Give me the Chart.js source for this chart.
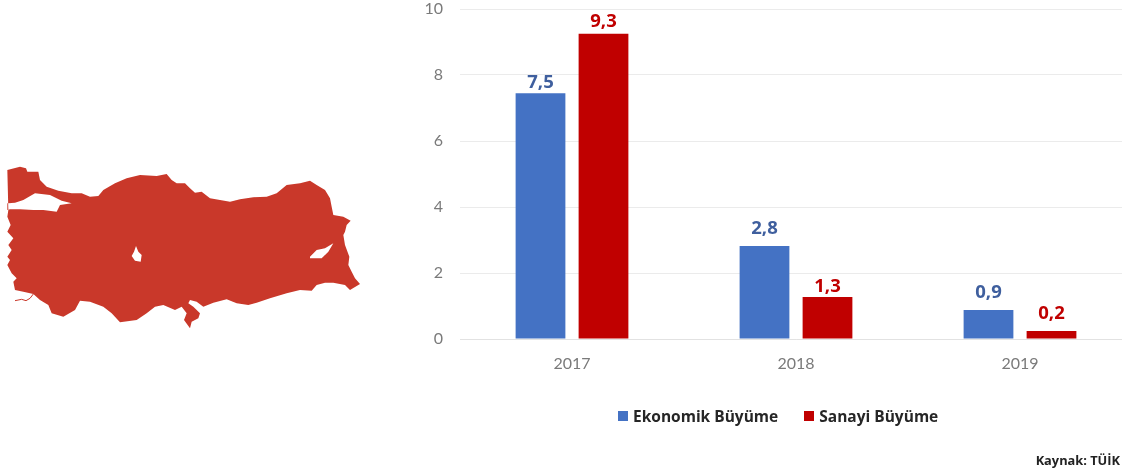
<!DOCTYPE html>
<html lang="tr">
<head>
<meta charset="utf-8">
<title>Ekonomik ve Sanayi Büyüme</title>
<script src="https://cdn.jsdelivr.net/npm/chart.js@4"></script>
<style>
  html, body { margin: 0; width: 1122px; height: 474px; overflow: hidden; background: #fff; font-family: "Open Sans", sans-serif; }
  #harita { position: absolute; left: 0; top: 150px; width: 380px; height: 190px; filter: blur(0.5px); }
  #grafik { position: absolute; left: 0; top: 0; }
  #lejant { position: absolute; left: 618px; top: 406px; display: flex; font-size: 15.5px; font-weight: 700; color: #262626; line-height: 20px; white-space: nowrap; }
  #lejant span { display: flex; align-items: center; margin-right: 26px; }
  #lejant i { width: 10px; height: 10px; margin-right: 5px; }
  #kaynak { position: absolute; right: 2px; top: 451px; font-size: 12.8px; font-weight: 700; color: #222; }
</style>
</head>
<body>
<!-- Türkiye haritası: sadece süs, veri taşımıyor -->
<svg id="harita" viewBox="0 0 1140 570">
  <path fill="#c9382a" fill-rule="evenodd" d="M22 60 60 50 78 55 82 65 115 65 120 90 140 110 175 122 215 130 245 130 270 140 295 138 310 120 345 100 380 85 420 75 470 78 500 72 515 90 530 100 555 100 570 115 585 128 605 125 630 145 660 150 690 155 720 148 760 142 800 140 830 130 860 105 900 100 930 92 950 105 975 120 990 145 995 170 1000 195 1030 200 1052 212 1040 225 1035 245 1030 255 1035 285 1048 320 1045 345 1055 365 1065 385 1080 402 1050 420 1035 405 1000 398 975 398 950 405 935 422 900 420 860 430 810 445 770 458 745 465 710 460 680 448 640 458 610 470 590 455 570 450 565 460 580 470 600 490 595 505 575 515 570 535 552 510 560 490 545 470 525 480 490 465 465 470 440 490 410 510 360 517 335 490 310 470 270 455 240 452 225 480 190 500 155 490 145 465 120 450 100 432 70 425 45 420 40 395 50 385 35 370 22 345 30 330 22 320 35 300 25 285 40 265 22 245 32 225 22 200 25 180 Z
  M22 160 45 158 70 150 105 130 150 135 185 152 215 160 180 165 170 185 130 180 100 180 60 178 30 178 22 180 Z
  M408 288 415 305 425 315 422 335 405 332 395 318 402 305 Z
  M930 320 950 300 975 295 1000 280 985 305 965 325 930 325 Z"/>
  <path fill="none" stroke="#c9382a" stroke-width="3" d="M45 452 65 448 78 452 90 445 100 432"/>
</svg>
<canvas id="grafik" width="1132" height="474"></canvas>
<div id="lejant"></div>
<div id="kaynak">Kaynak: TÜİK</div>
<script>
const years = ['2017', '2018', '2019'];
// Çubuk yükseklikleri; etiketler tek ondalığa yuvarlanıyor
const ekonomik = [7.45, 2.82, 0.88];
const sanayi = [9.25, 1.27, 0.24];
const yTicks = [0, 2, 4, 6, 8, 10];

const MAVI = '#4472c4';
const KIRMIZI = '#c00000';

// Çubukların üstündeki değer etiketleri (virgüllü)
const degerEtiketi = {
    id: 'degerEtiketi',
    afterDatasetsDraw(chart) {
        const ctx = chart.ctx;
        ctx.save();
        ctx.font = '700 18.5px "Open Sans", sans-serif';
        ctx.textAlign = 'center';
        ctx.textBaseline = 'alphabetic';
        chart.data.datasets.forEach(function (ds, i) {
            ctx.fillStyle = ds.labelColor;
            chart.getDatasetMeta(i).data.forEach(function (bar, j) {
                // orijinalde etiketler çubuğa eşit uzaklıkta değil
                ctx.fillText(ds.data[j].toFixed(1).replace('.', ','), bar.x, bar.y - ds.labelLift[j]);
            });
        });
        ctx.restore();
    },
};

const chart = new Chart(document.getElementById('grafik'), {
    type: 'bar',
    data: {
        labels: years,
        datasets: [
            { label: 'Ekonomik Büyüme', data: ekonomik, backgroundColor: MAVI, labelColor: '#3f5f9e', labelLift: [5, 12, 12] },
            { label: 'Sanayi Büyüme', data: sanayi, backgroundColor: KIRMIZI, labelColor: KIRMIZI, labelLift: [6.5, 5, 12] },
        ],
    },
    options: {
        responsive: false,
        animation: false,
        devicePixelRatio: 1,
        layout: { padding: { top: 9, left: 0, right: 0, bottom: 0 } },
        datasets: { bar: { categoryPercentage: 0.5625, barPercentage: 0.79 } },
        plugins: { legend: { display: false }, tooltip: { enabled: false } },
        scales: {
            x: {
                grid: { display: false },
                border: { color: '#e2e2e2' },
                ticks: { color: '#7a7a7a', font: { family: 'Lato, sans-serif', size: 16 }, padding: 7 },
                afterFit(scale) { scale.height = 135; scale.paddingLeft = 0; scale.paddingRight = 0; },
            },
            y: {
                min: 0,
                max: 10,
                afterBuildTicks(scale) { scale.ticks = yTicks.map((v) => ({ value: v })); },
                grid: { color: '#ebebeb', drawTicks: false },
                border: { display: false },
                ticks: { color: '#7a7a7a', font: { family: 'Lato, sans-serif', size: 16 }, padding: 17 },
                afterFit(scale) { scale.width = 460; scale.paddingTop = 0; scale.paddingBottom = 0; },
            },
        },
    },
    plugins: [degerEtiketi],
});

// Lejant
const lejant = document.getElementById('lejant');
chart.data.datasets.forEach(function (ds) {
    const s = document.createElement('span');
    const k = document.createElement('i');
    k.style.background = ds.backgroundColor;
    s.appendChild(k);
    s.appendChild(document.createTextNode(ds.label));
    lejant.appendChild(s);
});
</script>
</body>
</html>
